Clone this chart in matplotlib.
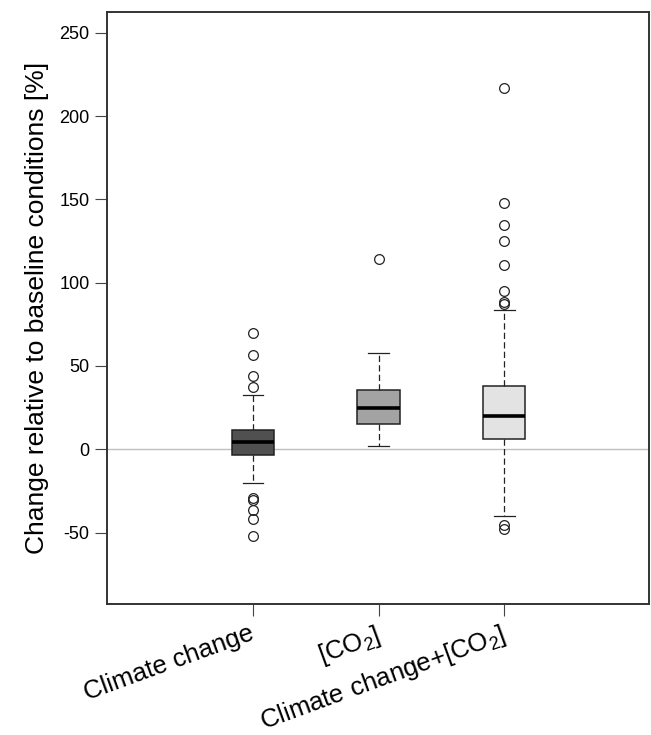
import matplotlib
matplotlib.use("Agg")
import matplotlib.pyplot as plt
from matplotlib import font_manager
from matplotlib.transforms import ScaledTranslation

categories = ["Climate change", r"$\mathregular{[CO_2]}$", r"$\mathregular{Climate\ change{+}[CO_2]}$"]
q1 = [-3.2, 15.0, 6.2]
medians = [4.2, 25.0, 19.8]
q3 = [11.4, 35.7, 38.1]
whis_lo = [-20.2, 2.0, -40.1]
whis_hi = [32.6, 57.9, 83.3]
fliers = [
    [69.9, 56.7, 43.7, 37.1, -29.0, -30.3, -36.7, -41.7, -52.3],
    [114.4],
    [216.8, 148.0, 134.8, 125.2, 110.8, 94.8, 88.5, 87.5, -45.7, -47.7],
]
box_colors = ["#505050", "#a3a3a3", "#e3e3e3"]
yticks = [-50, 0, 50, 100, 150, 200, 250]

names = {f.name for f in font_manager.fontManager.ttflist}
narrow = "Liberation Sans Narrow" in names
label_font = "Liberation Sans Narrow" if narrow else "Liberation Sans"
label_size = 23 if narrow else 19
xlabel_size = 22 if narrow else 18.5

plt.rcParams["font.family"] = ["Liberation Sans", "DejaVu Sans"]

fig = plt.figure(figsize=(6.51, 7.35), dpi=100)
ax = fig.add_axes([107 / 651, 1 - 603.5 / 735, (649 - 107) / 651, (603.5 - 11.5) / 735])

stats = []
for i in range(3):
    stats.append(dict(med=medians[i], q1=q1[i], q3=q3[i], whislo=whis_lo[i],
                      whishi=whis_hi[i], fliers=fliers[i]))

ax.axhline(0, color="#c0c0c0", lw=1.0, zorder=0)

bp = ax.bxp(stats, positions=[1, 2, 3], widths=0.335, capwidths=0.167,
            patch_artist=True, showfliers=True,
            boxprops=dict(edgecolor="#222222", linewidth=1.1),
            medianprops=dict(color="black", linewidth=2.6, solid_capstyle="butt"),
            whiskerprops=dict(color="#222222", linewidth=0.9, linestyle=(0, (5, 2.6))),
            capprops=dict(color="#222222", linewidth=0.9),
            flierprops=dict(marker="o", markersize=7, markerfacecolor="none",
                            markeredgecolor="#222222", markeredgewidth=0.9))
for patch, c in zip(bp["boxes"], box_colors):
    patch.set_facecolor(c)

ax.set_xlim(-0.163, 4.155)
ax.set_ylim(-92.6, 262.8)

for s in ax.spines.values():
    s.set_linewidth(1.4)
    s.set_color("#333333")

ax.set_yticks(yticks)
ax.set_yticklabels([str(v) for v in yticks])
ax.tick_params(axis="y", length=8.3, width=0.8, color="#444444", pad=4.3, labelsize=13)
ax.tick_params(axis="x", length=8.3, width=0.8, color="#444444", pad=4.5)
ax.set_xticks([1, 2, 3])
ax.set_xticklabels(categories, rotation=20, ha="right", rotation_mode="anchor",
                   fontsize=xlabel_size, family=label_font)
offset = ScaledTranslation(-4 / 100, 0, fig.dpi_scale_trans)
for lbl in ax.get_xticklabels():
    lbl.set_transform(lbl.get_transform() + offset)

ax.set_ylabel("Change relative to baseline conditions [%]", fontsize=label_size, family=label_font)
ax.yaxis.set_label_coords(-0.107, 0.5)

fig.savefig("out.png", dpi=100)
